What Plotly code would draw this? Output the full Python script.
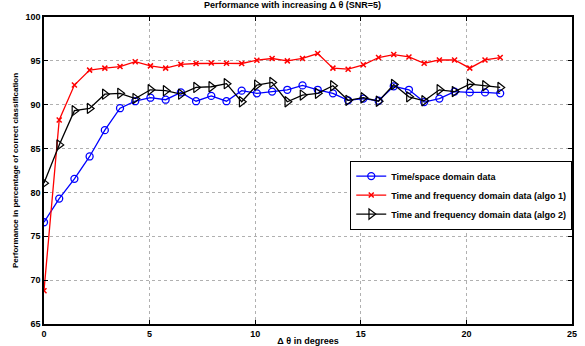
import plotly.graph_objects as go

step = 0.72
x_vals = [round(k * step, 2) for k in range(31)]

time_space = [76.6, 79.3, 81.55, 84.1, 87.1, 89.6, 90.4, 90.8, 90.57, 91.4,
              90.4, 91.0, 90.4, 91.6, 91.3, 91.5, 91.7, 92.2, 91.7, 91.3,
              90.5, 90.7, 90.45, 92.1, 91.7, 90.3, 90.7, 91.5, 91.4, 91.4, 91.3]
algo1 = [68.8, 88.26, 92.24, 93.94, 94.17, 94.35, 94.9, 94.43, 94.17, 94.6,
         94.7, 94.75, 94.72, 94.7, 95.08, 95.27, 95.0, 95.27, 95.83, 94.17,
         94.05, 94.55, 95.38, 95.72, 95.45, 94.73, 95.1, 95.1, 94.17, 95.1, 95.38]
algo2 = [81.06, 85.42, 89.32, 89.58, 91.2, 91.3, 90.7, 91.7, 91.6, 91.2,
         91.97, 92.05, 92.4, 90.34, 92.24, 92.54, 90.34, 91.1, 91.3, 92.16,
         90.5, 90.8, 90.4, 92.3, 90.9, 90.45, 91.7, 91.5, 92.35, 92.16, 91.97]

names = ["Time/space domain data",
         "Time and frequency domain data (algo 1)",
         "Time and frequency domain data (algo 2)"]

x_ticks = [0, 5, 10, 15, 20, 25]
y_ticks = [65, 70, 75, 80, 85, 90, 95, 100]

FONT = "Liberation Sans, Arial, Helvetica, sans-serif"

fig = go.Figure()
fig.add_trace(go.Scatter(x=x_vals, y=time_space, mode="lines+markers", name=names[0],
                         line=dict(color="#0000ff", width=1.3),
                         marker=dict(symbol="circle-open", size=7, color="#0000ff",
                                     line=dict(width=1.3))))
fig.add_trace(go.Scatter(x=x_vals, y=algo1, mode="lines+markers", name=names[1],
                         line=dict(color="#ff0000", width=1.3),
                         marker=dict(symbol="x-thin-open", size=5, color="#ff0000",
                                     line=dict(width=1.5, color="#ff0000"))))
fig.add_trace(go.Scatter(x=x_vals, y=algo2, mode="lines+markers", name=names[2],
                         line=dict(color="#000000", width=1.3),
                         marker=dict(symbol="triangle-right-open", size=9, color="#000000",
                                     line=dict(width=1.2))))

axis_common = dict(showline=True, linecolor="black", linewidth=1.5, mirror="allticks",
                   ticks="inside", ticklen=4, tickcolor="black",
                   showgrid=True, gridcolor="#b0b0b0", griddash="dot", gridwidth=1,
                   zeroline=False, automargin=False,
                   tickfont=dict(family=FONT, size=9, color="black", weight="bold"))

fig.update_xaxes(range=[0, 25], tickvals=x_ticks, **axis_common,
                 title=dict(text="<b>Δ θ in degrees</b>", standoff=2,
                            font=dict(family=FONT, size=9, color="black")))
fig.update_yaxes(range=[65, 100], tickvals=y_ticks, **axis_common,
                 title=dict(text="<b>Performance in percentage of correct classification</b>",
                            standoff=6, font=dict(family=FONT, size=8, color="black")))

fig.update_layout(
    width=585, height=346,
    margin=dict(l=44, r=13, t=17, b=22),
    paper_bgcolor="white", plot_bgcolor="white",
    title=dict(text="<b>Performance with increasing Δ θ (SNR=5)</b>",
               x=0.5, xanchor="center", y=0.995, yanchor="top",
               font=dict(family=FONT, size=9, color="black")),
    legend=dict(x=0.58, y=0.42, xanchor="left", yanchor="middle",
                bgcolor="white", bordercolor="black", borderwidth=1,
                font=dict(family=FONT, size=9, color="black", weight="bold"),
                itemwidth=30, tracegroupgap=0),
    showlegend=True,
)

fig.write_html("out.html", config={"displayModeBar": False},
               post_script="document.body.style.margin='0';document.body.style.overflow='hidden';")
